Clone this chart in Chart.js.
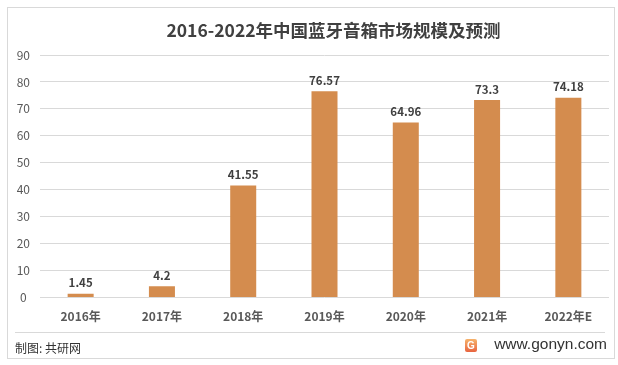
<!DOCTYPE html>
<html>
<head>
<meta charset="utf-8">
<script src="https://cdn.jsdelivr.net/npm/chart.js@4"></script>
<style>
  body { margin: 0; background: #fff; font-family: "Noto Sans CJK SC", sans-serif; }
  #frame { position: absolute; left: 7px; top: 7px; width: 606px; height: 350px; border: 1px solid #d9d9d9; }
  #wrap { position: absolute; left: 8px; top: 8px; width: 604px; height: 334px; }
  #title { position: absolute; left: 163px; top: 17px; width: 341px; text-align: center; white-space: nowrap;
           font-size: 17.5px; font-weight: bold; color: #404040; line-height: 26px; }
  #sep { position: absolute; left: 15px; top: 332px; width: 590px; height: 1px; background: #d9d9d9; }
  #src { position: absolute; left: 15px; top: 339px; font-size: 12px; color: #333; }
  #site { position: absolute; right: 11px; top: 335px; font-size: 15.5px; color: #333; font-family: "Liberation Sans", sans-serif; }
  #logo { position: absolute; left: 465px; top: 339px; width: 12px; height: 13px; border-radius: 2px;
          background: linear-gradient(180deg, #f6b36b, #e8643f); color: #fff; font: bold 10px "Liberation Sans"; text-align: center; line-height: 13px; }
</style>
</head>
<body>
<div id="frame"></div>
<div id="wrap"><canvas id="marketChart"></canvas></div>
<div id="title">2016-2022年中国蓝牙音箱市场规模及预测</div>
<div id="sep"></div>
<div id="src">制图: 共研网</div>
<div id="logo">G</div>
<div id="site">www.gonyn.com</div>
<script>
const years = ['2016年', '2017年', '2018年', '2019年', '2020年', '2021年', '2022年E'];
const marketSize = [1.45, 4.2, 41.55, 76.57, 64.96, 73.3, 74.18];
const yTicks = [0, 10, 20, 30, 40, 50, 60, 70, 80, 90];

// 柱子上方的数值标签
const valueLabels = {
  id: 'valueLabels',
  afterDatasetsDraw(chart) {
    const ctx = chart.ctx;
    const meta = chart.getDatasetMeta(0);
    ctx.save();
    ctx.font = 'bold 11.5px "Noto Sans CJK SC"';
    ctx.fillStyle = '#404040';
    ctx.textAlign = 'center';
    ctx.textBaseline = 'bottom';
    meta.data.forEach((bar, i) => {
      ctx.fillText(String(marketSize[i]), bar.x, bar.y - 5);
    });
    ctx.restore();
  }
};

const ctx = document.getElementById('marketChart').getContext('2d');
new Chart(ctx, {
  type: 'bar',
  data: {
    labels: years,
    datasets: [{
      data: marketSize,
      backgroundColor: '#d48c4e',
      categoryPercentage: 1,
      barPercentage: 0.32
    }]
  },
  options: {
    responsive: true,
    maintainAspectRatio: false,
    animation: false,
    layout: { padding: { left: 0, right: 3, top: 47, bottom: 6 } },
    plugins: {
      legend: { display: false },
      tooltip: { enabled: false }
    },
    scales: {
      x: {
        grid: { display: false, drawTicks: false },
        border: { display: false },
        ticks: {
          color: '#595959',
          padding: 12,
          font: { family: 'Noto Sans CJK SC', size: 12, weight: 'bold' }
        }
      },
      y: {
        min: 0,
        max: 90,
        afterFit: s => { s.width = 32; },
        afterBuildTicks: s => { s.ticks = yTicks.map(v => ({ value: v })); },
        grid: { color: '#d9d9d9', drawTicks: false },
        border: { display: false },
        ticks: {
          color: '#595959',
          padding: 10,
          crossAlign: 'center',
          font: { family: 'Noto Sans CJK SC', size: 12 }
        }
      }
    }
  },
  plugins: [valueLabels]
});
</script>
</body>
</html>
